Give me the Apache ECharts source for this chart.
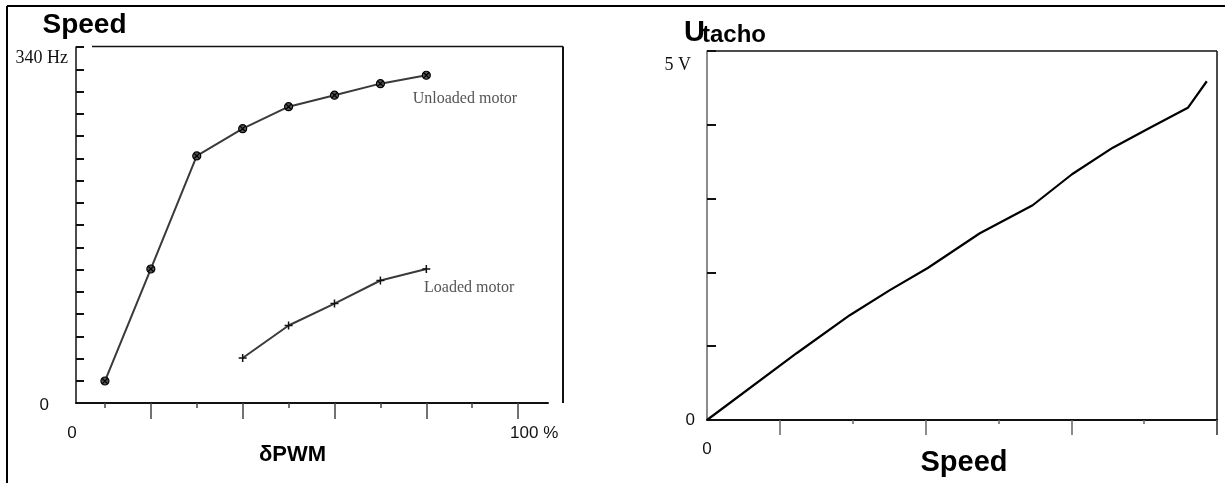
<!DOCTYPE html>
<html>
<head>
<meta charset="utf-8">
<script src="https://cdn.jsdelivr.net/npm/echarts@6/dist/echarts.min.js"></script>
<style>
html,body{margin:0;padding:0;background:#fff;}
#chart{width:1225px;height:483px;}
</style>
</head>
<body>
<div id="chart"></div>
<script>
// ---- data ----
const pwmPercent   = [10, 20, 30, 40, 50, 60, 70, 80];
const unloadedHz   = [21, 128, 236, 262, 283, 294, 305, 313];
const loadedPercent = [40, 50, 60, 70, 80];
const loadedHz     = [43, 74, 95, 117, 128];
const speedUnits   = [0, 1.235, 1.96, 2.51, 3.03, 3.745, 4.47, 5.01, 5.57, 6.08, 6.60, 6.86];
const tachoVolts   = [0, 0.908, 1.42, 1.76, 2.06, 2.53, 2.91, 3.33, 3.69, 3.96, 4.23, 4.59];
const leftXMajorTicks = [20, 40, 60, 80, 100];
const leftXMinorTicks = [10, 30, 50, 70, 90];
const rightXMajorTicks = [1, 3, 5, 7];
const rightXMinorTicks = [2, 4, 6];
const leftXLabels = ['0', '100 %'];
const leftYLabels = ['0', '340 Hz'];
const rightYLabels = ['0', '5 V'];
const rightXLabels = ['0'];
const seriesNames = ['Unloaded motor', 'Loaded motor'];

const SANS = 'Liberation Sans, Arial, sans-serif';
const SERIF = 'Liberation Serif, Times New Roman, serif';

function pairs(xs, ys) { return xs.map((x, i) => [x, ys[i]]); }

const unloadedData = pairs(pwmPercent, unloadedHz);
const loadedData = pairs(loadedPercent, loadedHz);
const tachoData = pairs(speedUnits, tachoVolts);

function withEndLabel(data, name, pos) {
  return data.map((d, i) => i === data.length - 1 ? {
    value: d,
    label: { show: true, formatter: name, position: pos, align: 'left', verticalAlign: 'middle',
      fontFamily: SERIF, fontSize: 16, color: '#555' }
  } : d);
}

const ringX = 'path://M5,0 A5,5 0 1 1 4.99,0 Z M1.5,1.5 L8.5,8.5 M8.5,1.5 L1.5,8.5';
const plus = 'path://M0,5 L10,5 M5,0 L5,10';

const chart = echarts.init(document.getElementById('chart'), null, { renderer: 'canvas' });

const LMIN = 3.7, LMAX = 106.5;

const option = {
  animation: false,
  backgroundColor: '#fff',
  grid: [
    { left: 76, top: 47, width: 472, height: 356 },
    { left: 707, top: 51, width: 510, height: 369 }
  ],
  xAxis: [
    { gridIndex: 0, type: 'value', position: 'bottom', min: LMIN, max: LMAX,
      axisLine: { show: true, lineStyle: { color: '#111', width: 2 } },
      axisTick: { show: true, customValues: leftXMajorTicks, length: 16, lineStyle: { color: '#444', width: 1.5 } },
      axisLabel: { show: true, customValues: [LMIN, 100], margin: 22,
        formatter: v => v > 50 ? '{r|' + leftXLabels[1] + '}' : '{l|' + leftXLabels[0] + '}',
        rich: {
          r: { fontFamily: SANS, fontSize: 17, color: '#111', padding: [0, 0, 0, 32] },
          l: { fontFamily: SANS, fontSize: 17, color: '#111', padding: [0, 8, 0, 0] }
        } },
      splitLine: { show: false } },
    { gridIndex: 0, type: 'value', position: 'bottom', offset: 0, min: LMIN, max: LMAX,
      axisLine: { show: false },
      axisTick: { show: true, customValues: leftXMinorTicks, length: 5, lineStyle: { color: '#444', width: 1.5 } },
      axisLabel: { show: false }, splitLine: { show: false } },
    { gridIndex: 1, type: 'value', position: 'bottom', min: 0, max: 7,
      axisLine: { show: true, lineStyle: { color: '#111', width: 2 } },
      axisTick: { show: true, customValues: rightXMajorTicks, length: 15, lineStyle: { color: '#666', width: 1.5 } },
      axisLabel: { show: true, customValues: [0], margin: 21, formatter: () => rightXLabels[0],
        fontFamily: SANS, fontSize: 17, color: '#111' },
      splitLine: { show: false } },
    { gridIndex: 1, type: 'value', position: 'bottom', offset: 0, min: 0, max: 7,
      axisLine: { show: false },
      axisTick: { show: true, customValues: rightXMinorTicks, length: 4, lineStyle: { color: '#666', width: 1.5 } },
      axisLabel: { show: false }, splitLine: { show: false } }
  ],
  yAxis: [
    { gridIndex: 0, type: 'value', min: 0, max: 340, interval: 21.25,
      axisLine: { show: true, lineStyle: { color: '#111', width: 1.5 } },
      axisTick: { show: true, inside: true, length: 8, lineStyle: { color: '#111', width: 2 } },
      axisLabel: { show: true, customValues: [0, 340], margin: 8,
        formatter: v => v === 0 ? '{z|' + leftYLabels[0] + '}' : '{s|' + leftYLabels[1] + '}',
        rich: {
          z: { fontFamily: SANS, fontSize: 17, color: '#111', padding: [4, 19, 0, 0] },
          s: { fontFamily: SERIF, fontSize: 18, color: '#111', padding: [22, 0, 0, 0] }
        } },
      splitLine: { show: false } },
    { gridIndex: 1, type: 'value', min: 0, max: 5, interval: 1,
      axisLine: { show: true, lineStyle: { color: '#666', width: 1.5 } },
      axisTick: { show: true, inside: true, length: 9, lineStyle: { color: '#111', width: 2 } },
      axisLabel: { show: true, customValues: [0, 5], margin: 12,
        formatter: v => v === 0 ? '{z|' + rightYLabels[0] + '}' : '{s|' + rightYLabels[1] + '}',
        rich: {
          z: { fontFamily: SANS, fontSize: 17, color: '#111' },
          s: { fontFamily: SERIF, fontSize: 18, color: '#111', padding: [28, 4, 0, 0] }
        } },
      splitLine: { show: false } }
  ],
  series: [
    { name: seriesNames[0], type: 'line', xAxisIndex: 0, yAxisIndex: 0,
      data: withEndLabel(unloadedData, seriesNames[0], [-9, 28]),
      symbol: ringX, symbolSize: 8, showAllSymbol: true,
      lineStyle: { color: '#3a3a3a', width: 2 },
      itemStyle: { color: '#555', borderColor: '#000', borderWidth: 1.2 } },
    { name: seriesNames[1], type: 'line', xAxisIndex: 0, yAxisIndex: 0,
      data: withEndLabel(loadedData, seriesNames[1], [2.5, 23.5]),
      symbol: plus, symbolSize: 8, showAllSymbol: true,
      lineStyle: { color: '#3a3a3a', width: 2 },
      itemStyle: { color: '#222', borderColor: '#111', borderWidth: 1.5 } },
    { name: 'Utacho', type: 'line', xAxisIndex: 2, yAxisIndex: 1,
      data: tachoData, showSymbol: false, symbol: 'none',
      lineStyle: { color: '#000', width: 2.2 } }
  ],
  graphic: [
    // outer border
    { type: 'line', shape: { x1: 7, y1: 6, x2: 1225, y2: 6 }, style: { stroke: '#000', lineWidth: 2 } },
    { type: 'line', shape: { x1: 7, y1: 6, x2: 7, y2: 483 }, style: { stroke: '#000', lineWidth: 2 } },
    // left plot frame
    { type: 'line', shape: { x1: 92, y1: 46.5, x2: 563, y2: 46.5 }, style: { stroke: '#111', lineWidth: 1.5 } },
    { type: 'line', shape: { x1: 563, y1: 46.5, x2: 563, y2: 403 }, style: { stroke: '#111', lineWidth: 2 } },
    // right plot frame
    { type: 'line', shape: { x1: 707, y1: 51, x2: 1217, y2: 51 }, style: { stroke: '#111', lineWidth: 1.5 } },
    { type: 'line', shape: { x1: 1217, y1: 51, x2: 1217, y2: 435 }, style: { stroke: '#111', lineWidth: 1.5 } },
    // titles
    { type: 'text', x: 84.5, y: 25, style: { text: 'Speed', fontFamily: SANS, fontWeight: 'bold', fontSize: 28, fill: '#000', align: 'center', verticalAlign: 'middle' } },
    { type: 'text', x: 292.5, y: 455, style: { text: 'δPWM', fontFamily: SANS, fontWeight: 'bold', fontSize: 22, fill: '#000', align: 'center', verticalAlign: 'middle' } },
    { type: 'text', x: 684, y: 33, style: { text: 'U', fontFamily: SANS, fontWeight: 'bold', fontSize: 29, fill: '#000', align: 'left', verticalAlign: 'middle' } },
    { type: 'text', x: 702, y: 35, style: { text: 'tacho', fontFamily: SANS, fontWeight: 'bold', fontSize: 24, fill: '#000', align: 'left', verticalAlign: 'middle' } },
    { type: 'text', x: 964, y: 463, style: { text: 'Speed', fontFamily: SANS, fontWeight: 'bold', fontSize: 29, fill: '#000', align: 'center', verticalAlign: 'middle' } }
  ]
};

chart.setOption(option);
</script>
</body>
</html>
